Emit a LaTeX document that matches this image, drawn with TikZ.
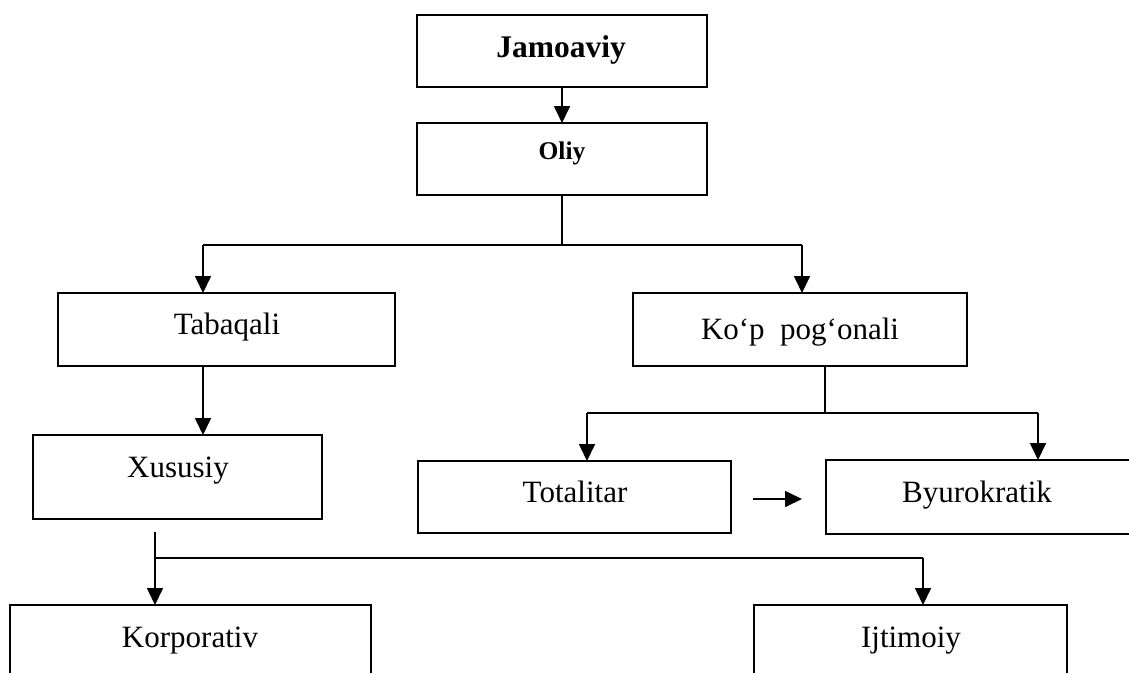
\documentclass[tikz,border=0pt]{standalone}
\usepackage{fontspec}
\setmainfont{Liberation Serif}
\usetikzlibrary{arrows.meta}
\begin{document}
\begin{tikzpicture}[x=1pt,y=-1pt,
  box/.style={draw,line width=1.6pt,rectangle,inner sep=0pt,outer sep=0pt},
  txt/.style={anchor=base,inner sep=0pt,font=\fontsize{31}{36}\selectfont},
  ln/.style={line width=1.6pt},
  arr/.style={line width=1.7pt,-{Triangle[length=17pt,width=16pt]}}]
\useasboundingbox (0,0) rectangle (1129,672);
% boxes
\node[box,minimum width=290pt,minimum height=72pt] (jam) at (562,51) {};
\node[box,minimum width=290pt,minimum height=72pt] (oliy) at (562,159) {};
\node[box,minimum width=337pt,minimum height=73pt] (tab) at (226.5,329.5) {};
\node[box,minimum width=334pt,minimum height=73pt] (kop) at (800,329.5) {};
\node[box,minimum width=289pt,minimum height=84pt] (xus) at (177.5,477) {};
\node[box,minimum width=313pt,minimum height=72pt] (tot) at (574.5,497) {};
\node[box,minimum width=310pt,minimum height=74pt] (byu) at (981,497) {};
\node[box,minimum width=361pt,minimum height=80pt] (kor) at (190.5,645) {};
\node[box,minimum width=313pt,minimum height=80pt] (ijt) at (910.5,645) {};
% texts
\node[txt,font=\fontsize{31.5}{36}\selectfont\bfseries] (jamT) at (561,57) {Jamoaviy};
\node[txt,font=\fontsize{25.5}{30}\selectfont\bfseries] (oliyT) at (562,159) {Oliy};
\node[txt] (tabT) at (227,334) {Tabaqali};
\node[txt] (kopT) at (800,339) {Ko‘p\ \ pog‘onali};
\node[txt] (xusT) at (178,477) {Xususiy};
\node[txt] (totT) at (575,502) {Totalitar};
\node[txt] (byuT) at (977,502) {Byurokratik};
\node[txt] (korT) at (190,647) {Korporativ};
\node[txt] (ijtT) at (911,647) {Ijtimoiy};
% branch points
\coordinate (j1) at (562,245);
\coordinate (j1l) at (203,245);
\coordinate (j1r) at (802,245);
\coordinate (k1) at (825,413);
\coordinate (k1l) at (587,413);
\coordinate (k1r) at (1038,413);
\coordinate (x0) at (155,532);
\coordinate (x1) at (155,558);
\coordinate (x2) at (923,558);
\coordinate (ta) at (753,499);
\coordinate (tb) at (802,499);
% connectors
\draw[arr] (jam.south) -- (oliy.north);
\draw[line width=1.2pt] (oliy.south) -- (j1);
\draw[ln] (j1l) -- (j1r);
\draw[arr] (j1l) -- (j1l |- tab.north);
\draw[arr] (j1r) -- (j1r |- kop.north);
\draw[arr] (tab.south -| j1l) -- (xus.north -| j1l);
\draw[line width=1.2pt] (k1 |- kop.south) -- (k1);
\draw[ln] (k1l) -- (k1r);
\draw[arr] (k1l) -- (k1l |- tot.north);
\draw[arr] (k1r) -- (k1r |- byu.north);
\draw[arr] (ta) -- (tb);
\draw[arr] (x0) -- (x0 |- kor.north);
\draw[ln] (x1) -- (x2);
\draw[arr] (x2) -- (x2 |- ijt.north);
\end{tikzpicture}
\end{document}
